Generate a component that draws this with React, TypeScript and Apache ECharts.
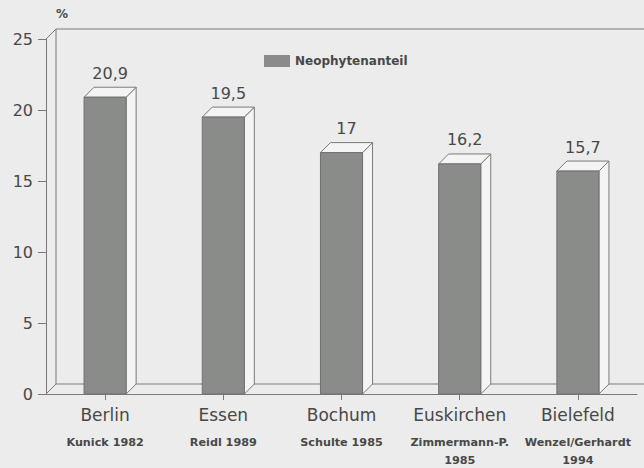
import React, { useEffect, useRef } from "react";
import * as echarts from "echarts";

// Neophyte share (%) of the urban flora, by city and source study
const cities = ["Berlin", "Essen", "Bochum", "Euskirchen", "Bielefeld"];
const sources = ["Kunick 1982", "Reidl 1989", "Schulte 1985", "Zimmermann-P.\n1985", "Wenzel/Gerhardt\n1994"];
const neophyteShare = [20.9, 19.5, 17, 16.2, 15.7];
const yTicks = { min: 0, max: 25, interval: 5 };
const seriesName = "Neophytenanteil";

const DEPTH = 10;
const INK = "#484848";
const EDGE = "#7a7a7a";
const BAR_FILL = "#8a8c8a";
const FACE_FILL = "#f4f4f4";
const FONT = "DejaVu Sans";

export default function App() {
  const ref = useRef<HTMLDivElement>(null);

  useEffect(() => {
    document.body.style.margin = "0";
    const chart = echarts.init(ref.current!, null, { renderer: "svg" });

    const fmt = (v: number) => String(v).replace(".", ",");

    chart.setOption({
      animation: false,
      backgroundColor: "#ececec",
      grid: { left: 46, right: 7, top: 39, bottom: 74 },
      legend: {
        left: 264,
        top: 55,
        padding: 0,
        itemWidth: 26,
        itemHeight: 12,
        itemGap: 6,
        data: [{ name: seriesName, icon: "rect" }],
        textStyle: { fontFamily: FONT, fontWeight: "bold", fontSize: 12, color: INK },
      },
      graphic: [
        {
          type: "text",
          left: 56,
          top: 8,
          style: { text: "%", fontFamily: FONT, fontWeight: "bold", fontSize: 12, fill: INK },
        },
      ],
      xAxis: {
        type: "category",
        data: cities,
        axisLine: { show: true, lineStyle: { color: EDGE, width: 1 } },
        axisTick: { show: true, alignWithLabel: true, length: 6, lineStyle: { color: EDGE } },
        axisLabel: {
          margin: 10,
          interval: 0,
          formatter: (value: string, idx: number) => `{a|${value}}\n{s| }\n{b|${sources[idx]}}`,
          rich: {
            a: { fontFamily: FONT, fontSize: 17, color: INK, lineHeight: 22 },
            s: { fontSize: 4, lineHeight: 7 },
            b: { fontFamily: FONT, fontSize: 11.2, fontWeight: "bold", color: INK, lineHeight: 18 },
          },
        },
      },
      yAxis: {
        type: "value",
        min: yTicks.min,
        max: yTicks.max,
        interval: yTicks.interval,
        axisLine: { show: true, lineStyle: { color: EDGE, width: 1 } },
        axisTick: { show: true, length: 8, lineStyle: { color: EDGE } },
        splitLine: { show: false },
        axisLabel: { fontFamily: FONT, fontSize: 16, color: INK, margin: 13 },
      },
      series: [
        {
          // back wall and floor of the 3D frame
          type: "custom",
          silent: true,
          clip: false,
          data: [[0, 0]],
          renderItem: (params: any) => {
            const { x, y, width: w, height: h } = params.coordSys;
            const d = DEPTH;
            const ls = { stroke: EDGE, lineWidth: 1, fill: null };
            return {
              type: "group",
              children: [
                { type: "polyline", shape: { points: [[x + d, y + h - d], [x + d, y - d], [x + w + d, y - d]] }, style: ls },
                { type: "line", shape: { x1: x + d, y1: y + h - d, x2: x + w + d, y2: y + h - d }, style: ls },
                { type: "line", shape: { x1: x, y1: y, x2: x + d, y2: y - d }, style: ls },
                { type: "line", shape: { x1: x, y1: y + h, x2: x + d, y2: y + h - d }, style: ls },
              ],
            };
          },
        },
        {
          name: seriesName,
          type: "custom",
          clip: false,
          itemStyle: { color: BAR_FILL, borderColor: EDGE },
          data: neophyteShare.map((v, i) => [i, v]),
          renderItem: (params: any, api: any) => {
            const idx = api.value(0);
            const v = api.value(1);
            const top = api.coord([idx, v]);
            const base = api.coord([idx, 0]);
            const band = api.size([1, 0])[0];
            const bw = band * 0.356;
            const x0 = top[0] - bw / 2;
            const x1 = top[0] + bw / 2;
            const d = DEPTH;
            const faceStyle = { fill: FACE_FILL, stroke: EDGE, lineWidth: 1 };
            return {
              type: "group",
              children: [
                {
                  type: "polygon",
                  shape: { points: [[x1, top[1]], [x1 + d, top[1] - d], [x1 + d, base[1] - d], [x1, base[1]]] },
                  style: faceStyle,
                },
                {
                  type: "polygon",
                  shape: { points: [[x0, top[1]], [x0 + d, top[1] - d], [x1 + d, top[1] - d], [x1, top[1]]] },
                  style: faceStyle,
                },
                {
                  type: "rect",
                  shape: { x: x0, y: top[1], width: bw, height: base[1] - top[1] },
                  style: { fill: BAR_FILL, stroke: "#6f716f", lineWidth: 1 },
                },
                {
                  type: "text",
                  x: top[0] + d / 2,
                  y: top[1] - d - 14,
                  style: {
                    text: fmt(v),
                    fontFamily: FONT,
                    fontSize: 16,
                    fill: INK,
                    align: "center",
                    verticalAlign: "middle",
                  },
                },
              ],
            };
          },
        },
      ],
    });

    return () => chart.dispose();
  }, []);

  return <div ref={ref} style={{ position: "fixed", left: 0, top: 0, width: 644, height: 468 }} />;
}
